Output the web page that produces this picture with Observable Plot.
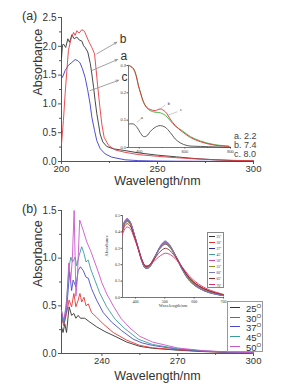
<!DOCTYPE html>
<html><head><meta charset="utf-8">
<script src="https://cdn.jsdelivr.net/npm/d3@7"></script>
<script src="https://cdn.jsdelivr.net/npm/@observablehq/plot@0.6"></script>
<style>
body{margin:0;background:#fff;font-family:"Liberation Sans",Arial,sans-serif;}
#wrap{position:relative;width:292px;height:386px;overflow:hidden;background:#fff;}
.abs{position:absolute;}
.lbl{position:absolute;font-size:12.5px;color:#333;}
.legA{position:absolute;font-size:9px;color:#444;line-height:9.2px;}
.legB{position:absolute;border:1px solid #999;background:#fff;box-sizing:border-box;}
.legB .row{display:flex;align-items:center;height:9.6px;}
.legB .sw{width:10px;height:0;margin-left:2px;}
.legB .tx{margin-left:6px;font-size:9.5px;color:#333;line-height:9px;}
.legB sup{font-size:6px;vertical-align:4px;}
.legI{position:absolute;border:0.6px solid #888;background:#fff;box-sizing:border-box;font-family:"Liberation Serif",serif;}
.legI .row{display:flex;align-items:center;height:6.1px;}
.legI .sw{width:6px;height:0;margin-left:1px;}
.legI .tx{margin-left:1.5px;font-size:3.6px;color:#333;line-height:4px;}
.legI sup{font-size:2.5px;vertical-align:1.5px;}
</style></head>
<body><div id="wrap"></div>
<script>
// ---------- Panel (a): main spectra vs pH ----------
const aWl = [200,200.5,201,202.2,203.3,204.2,205.4,206.6,208,209.2,210.6,211.5,212.3,213.7,215,215.8,216.7,217.5,218.4,219.3,220.1,221.5,223.6,227,233,240,250,260,270,280,290,300];
const aAbs = [1.8,2.02,2.04,1.98,2.13,2.07,2.2,2.13,2.16,2.11,2.09,2.01,1.98,1.9,1.7,1.52,1.29,1.06,0.83,0.65,0.48,0.34,0.26,0.22,0.19,0.15,0.11,0.08,0.05,0.03,0.015,0.01];
const bWl = [200,201,201.9,202.8,203.6,205,206.3,207.1,208,209.2,210.6,212,213.2,214.4,215.8,217.2,217.9,218.9,220,221,222.2,224.5,228,233,240,250,260,270,280,290,300];
const bAbs = [0.3,0.71,1.18,1.58,1.93,2.13,2.24,2.19,2.27,2.23,2.29,2.26,2.16,2.07,1.98,1.87,1.64,1.29,0.94,0.65,0.42,0.28,0.2,0.16,0.12,0.09,0.065,0.045,0.03,0.02,0.012];
const cWl = [200,200.5,201.9,203.6,205.4,207.1,208.5,209.7,210.9,212.3,213.7,214.9,215.8,217.2,218.4,220.2,222.8,226.2,233,240,250,260,280,300];
const cAbs = [1.49,1.46,1.58,1.67,1.72,1.77,1.75,1.71,1.61,1.46,1.23,1.0,0.77,0.54,0.36,0.22,0.13,0.075,0.03,0.015,0.008,0.005,0.003,0.002];
const pHLabels = ["a. 2.2","b. 7.4","c. 8.0"];
const annotA = [
  {t:"b", x1:218.4, y1:1.87, x2:228.8, y2:2.07},
  {t:"a", x1:215.8, y1:1.58, x2:229.2, y2:1.77},
  {t:"c", x1:214.9, y1:1.23, x2:229.7, y2:1.41}
];
// inset (a): visible-region spectra
const iaWl = [356,374,390,404,419,434,448,470,492,514,536,558,580,610,668,740,800];
const iaA = [0.086,0.086,0.074,0.055,0.04,0.043,0.058,0.074,0.08,0.074,0.055,0.031,0.017,0.007,0.004,0.002,0.001];
const ibWl = [356,374,386,396,407,418,433,448,470,492,514,536,558,588,624,668,727,793];
const iaB = [0.3,0.288,0.264,0.227,0.196,0.168,0.147,0.139,0.135,0.141,0.131,0.104,0.08,0.058,0.037,0.021,0.009,0.004];
const iaC = [0.3,0.29,0.266,0.229,0.197,0.167,0.145,0.135,0.129,0.127,0.118,0.098,0.078,0.062,0.04,0.024,0.011,0.005];
const annotIa = [
  {t:"a", x1:390, y1:0.092, x2:407, y2:0.104, tx:412, ty:0.11},
  {t:"b", x1:492, y1:0.141, x2:514, y2:0.156, tx:530, ty:0.162},
  {t:"c", x1:521, y1:0.117, x2:568, y2:0.131, tx:583, ty:0.139}
];

// ---------- Panel (b): main spectra vs temperature ----------
const tempLabels = ["25","30","37","45","50"];
const tempColors = ["#333333","#e83535","#4a4ac8","#3a9c9c","#cc55cc"];
const t25Wl = [224,224.6,225.3,226,227,228,228.9,229.7,230.6,231.5,233.2,235.2,237.9,241.2,245.2,249.8,255,260,270,280,290,300];
const t25Abs = [0.28,0.22,0.31,0.22,0.49,0.4,0.42,0.37,0.4,0.37,0.37,0.33,0.28,0.23,0.18,0.12,0.075,0.055,0.035,0.02,0.012,0.008];
const t30Wl = [224,224.9,226,227,228,228.9,229.7,230.6,231.3,232,232.9,233.7,234.6,235.9,237.9,240.5,244.5,249.8,255,260,270,280,290,300];
const t30Abs = [0.38,0.29,0.42,0.56,0.49,0.63,0.49,0.56,0.63,0.54,0.59,0.5,0.52,0.43,0.38,0.31,0.22,0.14,0.085,0.06,0.038,0.022,0.013,0.008];
const t37Wl = [224,224.9,226,227.2,228,228.6,229.7,230.6,231.5,232.6,233.7,234.6,235.9,237.9,240.5,243.8,247.8,252.4,256,260,270,280,290,300];
const t37Abs = [0.42,0.31,0.45,0.86,0.66,0.77,0.7,0.87,0.91,0.87,0.8,0.79,0.68,0.56,0.43,0.33,0.24,0.15,0.11,0.085,0.045,0.025,0.014,0.008];
const t45Wl = [224,224.9,226,227,227.7,228.4,229.4,230,231,232,232.9,233.7,234.6,235.5,237.2,239.2,241.9,245.2,249.1,254.4,260,270,280,290,300];
const t45Abs = [0.45,0.31,0.56,0.91,1.01,0.96,1.01,0.92,1.03,1.12,1.05,0.96,0.98,0.89,0.77,0.63,0.49,0.36,0.26,0.15,0.095,0.05,0.027,0.015,0.008];
const t50Wl = [224,224.9,226,226.9,227.6,228.3,229,229.7,230.3,231.2,232.5,234,235.5,237,238.5,240,242,244.5,247.5,251,255,260,270,280,290,300];
const t50Abs = [0.45,0.35,0.5,0.95,0.75,1.0,1.5,0.6,0.8,1.4,1.3,1.17,1.08,0.97,0.86,0.74,0.62,0.5,0.37,0.27,0.18,0.12,0.058,0.03,0.016,0.008];
// inset (b): visible-region spectra at 9 temperatures
const ibGrid = [356,364,372,382,395,410,423,434,447,462,478,492,502,515,535,560,585,615,650,700];
const insetTemps = ["25","30","37","45","50","55","60","65","70"];
const insetColors = ["#333333","#e03030","#2a2aa8","#3aa0a0","#d040c0","#8c8c2c","#7878c8","#8a2828","#e0306a"];
const ib25 = [0.42,0.455,0.47,0.455,0.39,0.30,0.225,0.19,0.195,0.235,0.285,0.315,0.325,0.31,0.26,0.18,0.115,0.07,0.04,0.015];
const ib30 = [0.41,0.45,0.465,0.45,0.385,0.297,0.225,0.19,0.196,0.237,0.29,0.322,0.332,0.316,0.262,0.178,0.112,0.068,0.038,0.014];
const ib37 = [0.43,0.465,0.478,0.46,0.39,0.295,0.215,0.178,0.183,0.228,0.29,0.328,0.34,0.322,0.26,0.168,0.1,0.058,0.03,0.011];
const ib45 = [0.425,0.46,0.474,0.457,0.388,0.295,0.217,0.18,0.186,0.23,0.29,0.326,0.338,0.32,0.26,0.17,0.103,0.06,0.032,0.012];
const ib50 = [0.43,0.467,0.482,0.463,0.393,0.298,0.219,0.182,0.188,0.231,0.29,0.323,0.335,0.318,0.261,0.172,0.106,0.062,0.034,0.013];
const ib55 = [0.415,0.45,0.462,0.447,0.383,0.295,0.22,0.184,0.19,0.232,0.286,0.318,0.33,0.315,0.26,0.175,0.108,0.064,0.035,0.014];
const ib60 = [0.425,0.462,0.475,0.458,0.39,0.295,0.216,0.178,0.184,0.23,0.292,0.332,0.345,0.326,0.263,0.17,0.101,0.058,0.031,0.011];
const ib65 = [0.4,0.437,0.45,0.437,0.378,0.295,0.225,0.192,0.196,0.228,0.268,0.292,0.3,0.29,0.25,0.18,0.118,0.073,0.042,0.016];
const ib70 = [0.385,0.418,0.43,0.42,0.368,0.292,0.227,0.195,0.197,0.218,0.245,0.263,0.27,0.265,0.238,0.185,0.128,0.082,0.048,0.019];

// ---------- helpers ----------
const rows = (wl, ab) => wl.map((w,i)=>({w, a:ab[i]}));
const wrap = document.getElementById("wrap");
function place(node, left, top){ const d=document.createElement("div"); d.className="abs"; d.style.left=left+"px"; d.style.top=top+"px"; d.appendChild(node); wrap.appendChild(d); return d; }
function html(cls, left, top, inner){ const d=document.createElement("div"); d.className=cls; d.style.left=left+"px"; d.style.top=top+"px"; d.innerHTML=inner; wrap.appendChild(d); return d; }
const AX="#555", TXT="#333";
const f1 = d3.format(".1f");
const mainStyle = {fontFamily:'"Liberation Sans",Arial,sans-serif', fontSize:"10px", color:TXT, background:"transparent", overflow:"visible"};
const empty = () => "";

function mainAxes(xMaj, xMin, yMaj, yMin, x0){
  return [
    Plot.axisY(yMaj, {tickSize:3, tickPadding:2, tickFormat:f1, fontSize:10, stroke:AX, fill:TXT, label:null}),
    Plot.axisY(yMin, {tickSize:2, tickFormat:empty, stroke:AX, label:null}),
    Plot.axisX(xMaj, {tickSize:3, tickPadding:1, tickFormat:d3.format("d"), fontSize:9.5, stroke:AX, fill:TXT, label:null}),
    Plot.axisX(xMin, {tickSize:2, tickFormat:empty, stroke:AX, label:null}),
    Plot.ruleX([x0], {stroke:AX, strokeWidth:1}),
    Plot.ruleY([0], {stroke:AX, strokeWidth:1})
  ];
}
function titles(dyX, dyY){
  return [
    Plot.text(["Wavelength/nm"], {frameAnchor:"bottom", dy:dyX, text:d=>d, fontSize:12.5, fill:TXT, lineAnchor:"middle"}),
    Plot.text(["Absorbance"], {frameAnchor:"left", dx:-24, dy:dyY, rotate:-90, text:d=>d, fontSize:12.5, fill:TXT, lineAnchor:"middle"})
  ];
}

// ---------- Panel (a) main ----------
const plotA = Plot.plot({
  width:292, height:193, marginLeft:61, marginRight:39, marginTop:17, marginBottom:32,
  x:{domain:[200,300], label:null}, y:{domain:[0,2.5], label:null},
  style:mainStyle,
  marks:[
    ...mainAxes([200,250,300],[225,275],[0,0.5,1,1.5,2,2.5],[0.25,0.75,1.25,1.75,2.25],200),
    Plot.line(rows(cWl,cAbs), {x:"w", y:"a", stroke:"#3b3bd0", strokeWidth:0.9}),
    Plot.line(rows(aWl,aAbs), {x:"w", y:"a", stroke:"#333", strokeWidth:0.9}),
    Plot.line(rows(bWl,bAbs), {x:"w", y:"a", stroke:"#e83a3f", strokeWidth:0.9}),
    Plot.arrow(annotA, {x1:"x1", y1:"y1", x2:"x2", y2:"y2", stroke:"#8a8a8a", strokeWidth:0.8, headLength:5, headAngle:45}),
    Plot.text(annotA, {x:"x2", y:"y2", text:"t", dx:3, dy:-3, textAnchor:"start", fontSize:12, fill:TXT}),
    ...titles(19.5, 6)
  ]
});
place(plotA, 0, 0);

// inset (a)
const plotIA = Plot.plot({
  width:130, height:95, marginLeft:20, marginRight:8, marginTop:5, marginBottom:8,
  x:{domain:[353,800], label:null}, y:{domain:[0,0.3], label:null},
  style:{fontFamily:'"Liberation Sans",Arial,sans-serif', fontSize:"4px", color:TXT, background:"transparent", overflow:"visible"},
  marks:[
    Plot.axisY([0,0.1,0.2,0.3], {tickSize:1.5, tickPadding:1, tickFormat:f1, fontSize:4, stroke:AX, fill:TXT, label:null}),
    Plot.axisX([400,600,800], {tickSize:1.5, tickPadding:1, tickFormat:d3.format("d"), fontSize:4, stroke:AX, fill:TXT, label:null}),
    Plot.axisX([500,700], {tickSize:1, tickFormat:empty, stroke:AX, label:null}),
    Plot.ruleX([353], {stroke:AX, strokeWidth:0.8}),
    Plot.ruleY([0], {stroke:AX, strokeWidth:0.8}),
    Plot.line(rows(iaWl,iaA), {x:"w", y:"a", stroke:"#333", strokeWidth:0.8, curve:"catmull-rom"}),
    Plot.line(rows(ibWl,iaC), {x:"w", y:"a", stroke:"#3cb043", strokeWidth:0.9, curve:"catmull-rom"}),
    Plot.line(rows(ibWl,iaB), {x:"w", y:"a", stroke:"#e03030", strokeWidth:0.9, curve:"catmull-rom"}),
    Plot.link(annotIa, {x1:"x1", y1:"y1", x2:"x2", y2:"y2", stroke:"#999", strokeWidth:0.5}),
    Plot.text(annotIa, {x:"tx", y:"ty", text:"t", fontSize:4, fill:TXT})
  ]
});
place(plotIA, 108, 60);
html("legA", 234, 132, pHLabels.join("<br>"));

// ---------- Panel (b) main ----------
const tSeries = [[t25Wl,t25Abs],[t30Wl,t30Abs],[t37Wl,t37Abs],[t45Wl,t45Abs],[t50Wl,t50Abs]];
const plotB = Plot.plot({
  width:292, height:193, marginLeft:61, marginRight:39, marginTop:17, marginBottom:33,
  x:{domain:[224,300], label:null}, y:{domain:[0,1.5], label:null},
  style:mainStyle,
  marks:[
    ...mainAxes([240,270,300],[255,285],[0,0.5,1,1.5],[0.25,0.75,1.25],224),
    ...tSeries.map(([w,a],i)=>Plot.line(rows(w,a), {x:"w", y:"a", stroke:tempColors[i], strokeWidth:0.9})),
    ...titles(22, 5)
  ]
});
place(plotB, 0, 193);

// inset (b)
const ibSeries = [ib25,ib30,ib37,ib45,ib50,ib55,ib60,ib65,ib70];
const plotIB = Plot.plot({
  width:130, height:110, marginLeft:22, marginRight:7, marginTop:10, marginBottom:18,
  x:{domain:[356,700], label:null}, y:{domain:[0,0.5], label:null},
  style:{fontFamily:'"Liberation Serif","DejaVu Serif",serif', fontSize:"4px", color:TXT, background:"transparent", overflow:"visible"},
  marks:[
    Plot.axisY([0,0.1,0.2,0.3,0.4,0.5], {tickSize:1.5, tickPadding:1, tickFormat:f1, fontSize:4, stroke:AX, fill:TXT, label:null}),
    Plot.axisX([400,500,600,700], {tickSize:1.5, tickPadding:1, tickFormat:d3.format("d"), fontSize:4, stroke:AX, fill:TXT, label:null}),
    Plot.ruleX([356], {stroke:AX, strokeWidth:0.8}),
    Plot.ruleY([0], {stroke:AX, strokeWidth:0.8}),
    ...ibSeries.map((v,i)=>Plot.line(rows(ibGrid,v), {x:"w", y:"a", stroke:insetColors[i], strokeWidth:0.9, curve:"catmull-rom"})),
    Plot.text(["Wavelength/nm"], {frameAnchor:"bottom", dy:9, text:d=>d, fontSize:4.5, fill:TXT}),
    Plot.text(["Absorbance"], {frameAnchor:"left", dx:-16, rotate:-90, text:d=>d, fontSize:4.5, fill:TXT})
  ]
});
place(plotIB, 100, 205);

// legends
html("legI", 207, 232, insetTemps.map((t,i)=>`<div class="row"><span class="sw" style="border-top:1px solid ${insetColors[i]}"></span><span class="tx">${t}<sup>o</sup></span></div>`).join(""));
const lb = html("legB", 227, 301, tempLabels.map((t,i)=>`<div class="row"><span class="sw" style="border-top:1.3px solid ${tempColors[i]}"></span><span class="tx">${t}<sup>O</sup></span></div>`).join(""));
lb.style.width="36px"; lb.style.height="51px"; lb.style.paddingTop="1px";
document.querySelector(".legI").style.width="17px";
document.querySelector(".legI").style.height="56px";

// panel letters
html("lbl", 22, 9, "(a)");
html("lbl", 22, 202, "(b)");
</script></body></html>
